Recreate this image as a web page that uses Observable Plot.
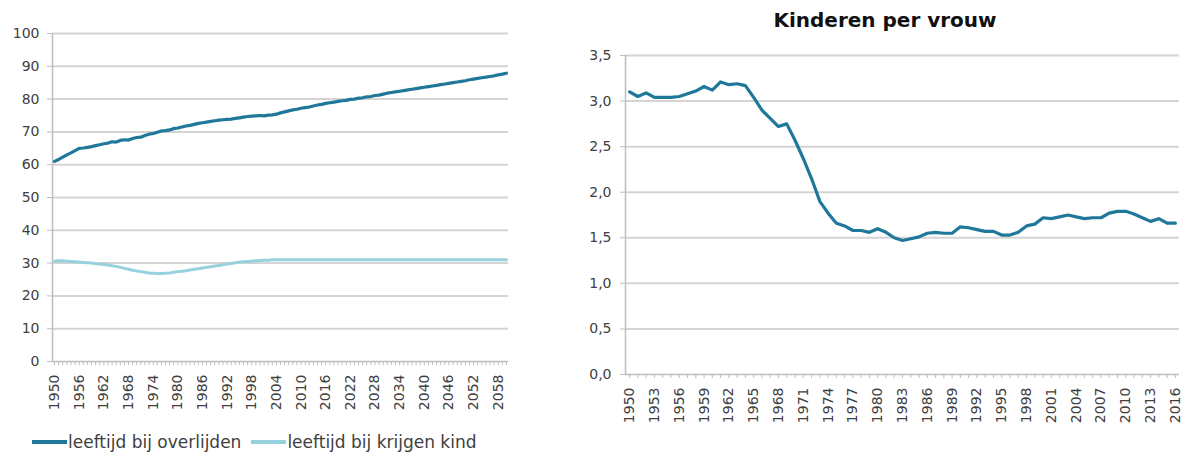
<!DOCTYPE html>
<html>
<head>
<meta charset="utf-8">
<script src="https://cdn.jsdelivr.net/npm/d3@7"></script>
<script src="https://cdn.jsdelivr.net/npm/@observablehq/plot@0.6"></script>
<style>
  html, body { margin: 0; padding: 0; background: #fff; }
  #wrap { position: relative; width: 1185px; height: 454px; overflow: hidden; font-family: "DejaVu Sans", Verdana, sans-serif; }
  #left { position: absolute; left: 0; top: 0; }
  #right { position: absolute; left: 570px; top: 0; }
  #title { position: absolute; left: 570px; width: 615px; top: 8px; text-align: center; font-weight: bold; font-size: 20px; color: #111; padding-left: 15px; box-sizing: border-box; }
  #legend { position: absolute; left: 32px; top: 432px; display: flex; align-items: center; font-size: 17px; color: #404040; white-space: nowrap; }
  .sw { display: inline-block; width: 35px; height: 4px; margin-right: 1px; }
</style>
</head>
<body>
<div id="wrap">
  <div id="left"></div>
  <div id="title">Kinderen per vrouw</div>
  <div id="right"></div>
  <div id="legend"></div>
</div>
<script>
// ---- Data ----
const yearsLeft = d3.range(1950, 2061);          // 1950 .. 2060
const yTicksLeft = [0, 10, 20, 30, 40, 50, 60, 70, 80, 90, 100];
const seriesNames = ["leeftijd bij overlijden", "leeftijd bij krijgen kind"];
const seriesColors = ["#1f7799", "#98d1de"];

const leeftijdOverlijden = [
  61.0, 61.6, 62.3, 63.0, 63.6, 64.3, 65.0, 65.1, 65.3, 65.5,
  65.8, 66.1, 66.4, 66.6, 67.0, 66.9, 67.4, 67.6, 67.5, 68.0,
  68.3, 68.4, 68.9, 69.3, 69.5, 69.9, 70.3, 70.4, 70.6, 71.0,
  71.2, 71.5, 71.8, 72.0, 72.3, 72.6, 72.8, 73.0, 73.2, 73.4,
  73.6, 73.7, 73.8, 73.9, 74.1, 74.3, 74.5, 74.7, 74.8, 74.9,
  75.0, 74.9, 75.1, 75.2, 75.4, 75.8, 76.1, 76.4, 76.7, 76.9,
  77.2, 77.4, 77.6, 77.9, 78.2, 78.4, 78.7, 78.9, 79.1, 79.3,
  79.5, 79.6, 79.9, 80.0, 80.3, 80.4, 80.7, 80.8, 81.1, 81.2,
  81.5, 81.8, 82.0, 82.2, 82.4, 82.6, 82.8, 83.0, 83.2, 83.4,
  83.6, 83.8, 84.0, 84.2, 84.4, 84.6, 84.8, 85.0, 85.2, 85.4,
  85.6, 85.9, 86.1, 86.3, 86.5, 86.7, 86.9, 87.1, 87.4, 87.6,
  87.9
];

const leeftijdKrijgenKind = [
  30.6, 30.7, 30.7, 30.6, 30.5, 30.4, 30.3, 30.2, 30.1, 30.0,
  29.8, 29.7, 29.6, 29.4, 29.2, 29.0, 28.7, 28.4, 28.1, 27.8,
  27.6, 27.4, 27.2, 27.0, 26.9, 26.8, 26.8, 26.9, 27.0, 27.2,
  27.4, 27.5, 27.7, 27.9, 28.1, 28.3, 28.5, 28.7, 28.9, 29.1,
  29.3, 29.5, 29.7, 29.9, 30.1, 30.3, 30.4, 30.5, 30.6, 30.7,
  30.8, 30.9, 30.9, 31.0, 31.0, 31.0, 31.0, 31.0, 31.0, 31.0,
  31.0, 31.0, 31.0, 31.0, 31.0, 31.0, 31.0, 31.0, 31.0, 31.0,
  31.0, 31.0, 31.0, 31.0, 31.0, 31.0, 31.0, 31.0, 31.0, 31.0,
  31.0, 31.0, 31.0, 31.0, 31.0, 31.0, 31.0, 31.0, 31.0, 31.0,
  31.0, 31.0, 31.0, 31.0, 31.0, 31.0, 31.0, 31.0, 31.0, 31.0,
  31.0, 31.0, 31.0, 31.0, 31.0, 31.0, 31.0, 31.0, 31.0, 31.0,
  31.0
];

const yearsRight = d3.range(1950, 2017);         // 1950 .. 2016
const yTicksRight = [0, 0.5, 1, 1.5, 2, 2.5, 3, 3.5];
const kinderenPerVrouw = [
  3.10, 3.05, 3.09, 3.04, 3.04, 3.04, 3.05, 3.08, 3.11, 3.16,
  3.12, 3.21, 3.18, 3.19, 3.17, 3.04, 2.90, 2.81, 2.72, 2.75,
  2.57, 2.37, 2.15, 1.90, 1.77, 1.66, 1.63, 1.58, 1.58, 1.56,
  1.60, 1.56, 1.50, 1.47, 1.49, 1.51, 1.55, 1.56, 1.55, 1.55,
  1.62, 1.61, 1.59, 1.57, 1.57, 1.53, 1.53, 1.56, 1.63, 1.65,
  1.72, 1.71, 1.73, 1.75, 1.73, 1.71, 1.72, 1.72, 1.77, 1.79,
  1.79, 1.76, 1.72, 1.68, 1.71, 1.66, 1.66
];

// ---- Tables ----
const leftData = yearsLeft.map((y, i) => ({year: y, value: leeftijdOverlijden[i], serie: seriesNames[0]}));
const leftData2 = yearsLeft.map((y, i) => ({year: y, value: leeftijdKrijgenKind[i], serie: seriesNames[1]}));
const rightData = yearsRight.map((y, i) => ({year: y, value: kinderenPerVrouw[i]}));

const gridColor = "#d4d4d4";
const axisColor = "#bdbdbd";
const textColor = "#404040";
const font = "DejaVu Sans, Verdana, sans-serif";

// ---- Left chart ----
const left = Plot.plot({
  width: 530, height: 420,
  marginTop: 33, marginBottom: 59, marginLeft: 52, marginRight: 22,
  style: {fontFamily: font, fontSize: "14px", color: textColor, background: "transparent"},
  x: {type: "linear", domain: [1949.5, 2060.5]},
  y: {domain: [0, 100]},
  marks: [
    Plot.ruleY(yTicksLeft.slice(1), {stroke: gridColor, strokeWidth: 2}),
    Plot.axisY({ticks: yTicksLeft, tickSize: 5, tickPadding: 8, stroke: axisColor, fill: textColor, label: null}),
    Plot.axisX({ticks: yearsLeft, tickSize: 4, tickPadding: 9, tickRotate: -90, stroke: axisColor, fill: textColor, label: null,
      tickFormat: (d) => ((d - 1950) % 6 === 0 ? String(d) : "")}),
    Plot.ruleX([1949.5], {stroke: axisColor, strokeWidth: 1.5}),
    Plot.ruleY([0], {stroke: axisColor, strokeWidth: 1.5}),
    Plot.line(leftData2, {x: "year", y: "value", stroke: seriesColors[1], strokeWidth: 3}),
    Plot.line(leftData, {x: "year", y: "value", stroke: seriesColors[0], strokeWidth: 3.2})
  ]
});
document.getElementById("left").appendChild(left);

// ---- Right chart ----
const comma = (d) => d.toFixed(1).replace(".", ",");
const right = Plot.plot({
  width: 615, height: 432,
  marginTop: 55, marginBottom: 58, marginLeft: 55, marginRight: 6,
  style: {fontFamily: font, fontSize: "14px", color: textColor, background: "transparent"},
  x: {type: "linear", domain: [1949.5, 2016.5]},
  y: {domain: [0, 3.5]},
  marks: [
    Plot.ruleY(yTicksRight.slice(1), {stroke: gridColor, strokeWidth: 2}),
    Plot.axisY({ticks: yTicksRight, tickSize: 5, tickPadding: 9, stroke: axisColor, fill: textColor, label: null, tickFormat: comma}),
    Plot.axisX({ticks: yearsRight, tickSize: 4, tickPadding: 9, tickRotate: -90, stroke: axisColor, fill: textColor, label: null,
      tickFormat: (d) => ((d - 1950) % 3 === 0 ? String(d) : "")}),
    Plot.ruleX([1949.5], {stroke: axisColor, strokeWidth: 1.5}),
    Plot.ruleY([0], {stroke: axisColor, strokeWidth: 1.5}),
    Plot.line(rightData, {x: "year", y: "value", stroke: seriesColors[0], strokeWidth: 3.2})
  ]
});
document.getElementById("right").appendChild(right);

// ---- Legend ----
const legend = document.getElementById("legend");
seriesNames.forEach((name, i) => {
  const item = document.createElement("span");
  item.style.display = "inline-flex";
  item.style.alignItems = "center";
  item.style.marginRight = "10px";
  const sw = document.createElement("span");
  sw.className = "sw";
  sw.style.background = seriesColors[i];
  const label = document.createElement("span");
  label.textContent = name;
  item.appendChild(sw);
  item.appendChild(label);
  legend.appendChild(item);
});
</script>
</body>
</html>
